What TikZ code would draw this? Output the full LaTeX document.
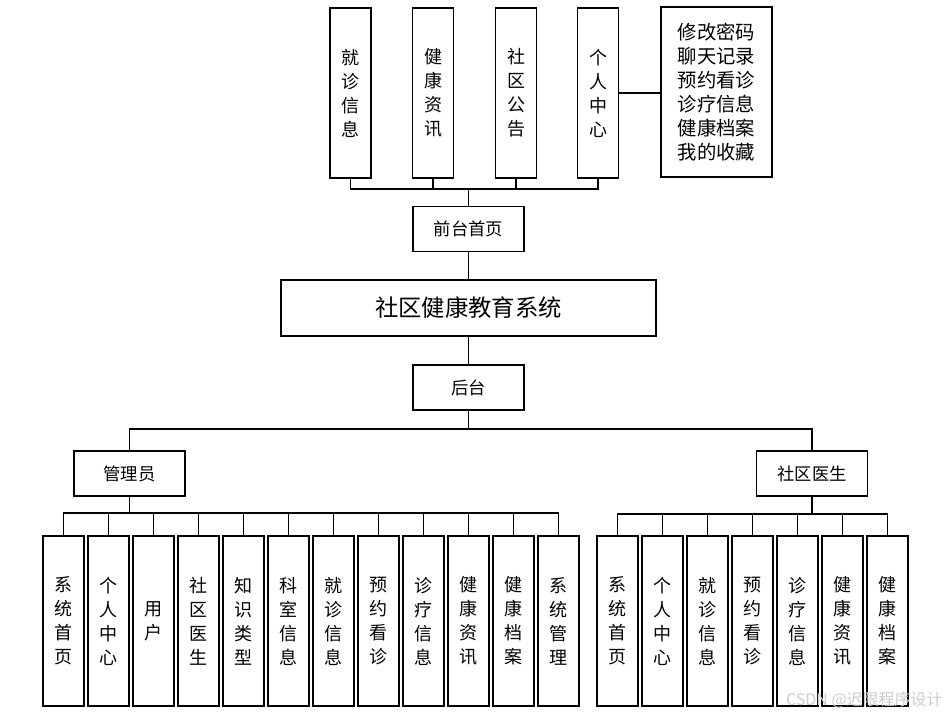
\documentclass[tikz,border=0pt]{standalone}
\usepackage{fontspec}
\newfontfamily\cjk{Noto Sans CJK SC}
\usetikzlibrary{positioning}
\tikzset{
  vbox/.style={draw, line width=1.1pt, minimum width=30.75pt, minimum height=127.5pt, inner sep=0pt, align=center, font=\cjk\fontsize{13.5}{18}\selectfont},
  listbox/.style={draw, line width=1.1pt, minimum width=83.25pt, minimum height=127.5pt, inner sep=0pt, align=left, font=\cjk\fontsize{14.5}{18}\selectfont},
  hbox/.style={draw, line width=1.1pt, minimum width=83.25pt, minimum height=34pt, inner sep=0pt, font=\cjk\fontsize{13}{15}\selectfont},
  titlebox/.style={draw, line width=1.1pt, minimum width=281.25pt, minimum height=42pt, inner sep=0pt, font=\cjk\fontsize{17.5}{20}\selectfont},
  link/.style={line width=1pt},
  spine/.style={line width=1.4pt},
  watermark/.style={text=gray!40, inner sep=0pt, font=\cjk\fontsize{12}{12}\selectfont}
}
\begin{document}
\begin{tikzpicture}[x=0.75pt, y=-0.75pt]
  \useasboundingbox (0,0) rectangle (947,716);

  % front end
  \node[vbox] (jiuzhen) at (350.5,93) {就\\诊\\信\\息};
  \node[vbox] (zixun) at (433,93) {健\\康\\资\\讯};
  \node[vbox] (gonggao) at (516,93) {社\\区\\公\\告};
  \node[vbox] (geren) at (598,93) {个\\人\\中\\心};
  \node[listbox] (gerenlist) at (716.5,92) {修改密码\\聊天记录\\预约看诊\\诊疗信息\\健康档案\\我的收藏};
  \node[hbox] (qiantai) at (468.5,229) {前台首页};

  \node[titlebox] (sys) at (468.5,308) {社区健康教育系统};

  % back end
  \node[hbox] (houtai) at (468.5,387.5) {后台};
  \node[hbox] (admin) at (129.5,473.5) {管理员};
  \node[hbox] (doctor) at (812,473.5) {社区医生};

  \node[vbox] (asyshome) at (63.5,621) {系\\统\\首\\页};
  \node[vbox] (aprofile) at (108.5,621) {个\\人\\中\\心};
  \node[vbox] (auser) at (153.5,621) {用\\户};
  \node[vbox] (adoctor) at (198.5,621) {社\\区\\医\\生};
  \node[vbox] (aknow) at (243.5,621) {知\\识\\类\\型};
  \node[vbox] (adept) at (288.5,621) {科\\室\\信\\息};
  \node[vbox] (avisit) at (333.5,621) {就\\诊\\信\\息};
  \node[vbox] (abook) at (378.5,621) {预\\约\\看\\诊};
  \node[vbox] (adiag) at (423.5,621) {诊\\疗\\信\\息};
  \node[vbox] (anews) at (468.5,621) {健\\康\\资\\讯};
  \node[vbox] (arecord) at (513.5,621) {健\\康\\档\\案};
  \node[vbox] (asysmgr) at (558.5,621) {系\\统\\管\\理};

  \node[vbox] (dhome) at (617.5,621) {系\\统\\首\\页};
  \node[vbox] (dprofile) at (662.5,621) {个\\人\\中\\心};
  \node[vbox] (dvisit) at (707.5,621) {就\\诊\\信\\息};
  \node[vbox] (dbook) at (752.5,621) {预\\约\\看\\诊};
  \node[vbox] (ddiag) at (797.5,621) {诊\\疗\\信\\息};
  \node[vbox] (dnews) at (842.5,621) {健\\康\\资\\讯};
  \node[vbox] (drecord) at (887.5,621) {健\\康\\档\\案};

  \coordinate (topbus) at (468.5,189);
  \coordinate (rolebus) at (468.5,429);
  \coordinate (adminbus) at (129.5,513);
  \coordinate (doctorbus) at (812,514);

  \draw[link] (jiuzhen.south) |- (topbus);
  \draw[link] (zixun.south) |- (topbus);
  \draw[link] (gonggao.south) |- (topbus);
  \draw[link] (geren.south) |- (topbus);
  \draw[spine] (topbus) -- (qiantai.north);
  \draw[link] (geren.east) -- (geren.east -| gerenlist.west);
  \draw[spine] (qiantai.south) -- (sys.north);
  \draw[spine] (sys.south) -- (houtai.north);

  \draw[spine] (houtai.south) -- (rolebus);
  \draw[link] (rolebus) -| (admin.north);
  \draw[link] (rolebus) -| (doctor.north);

  \draw[spine] (admin.south) -- (adminbus);
  \draw[link] (asyshome.north) |- (adminbus);
  \draw[link] (aprofile.north) |- (adminbus);
  \draw[link] (auser.north) |- (adminbus);
  \draw[link] (adoctor.north) |- (adminbus);
  \draw[link] (aknow.north) |- (adminbus);
  \draw[link] (adept.north) |- (adminbus);
  \draw[link] (avisit.north) |- (adminbus);
  \draw[link] (abook.north) |- (adminbus);
  \draw[link] (adiag.north) |- (adminbus);
  \draw[link] (anews.north) |- (adminbus);
  \draw[link] (arecord.north) |- (adminbus);
  \draw[link] (asysmgr.north) |- (adminbus);

  \draw[spine] (doctor.south) -- (doctorbus);
  \draw[link] (dhome.north) |- (doctorbus);
  \draw[link] (dprofile.north) |- (doctorbus);
  \draw[link] (dvisit.north) |- (doctorbus);
  \draw[link] (dbook.north) |- (doctorbus);
  \draw[link] (ddiag.north) |- (doctorbus);
  \draw[link] (dnews.north) |- (doctorbus);
  \draw[link] (drecord.north) |- (doctorbus);

  \node[watermark, anchor=east] (mark) at (943,700) {CSDN @迟限程序设计};
\end{tikzpicture}
\end{document}
